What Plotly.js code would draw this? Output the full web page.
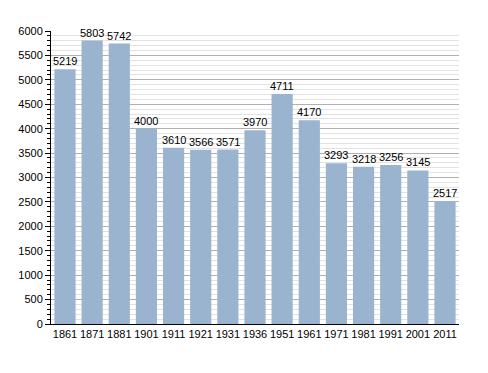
<!DOCTYPE html>
<html><head><meta charset="utf-8">
<script src="https://cdn.plot.ly/plotly-3.0.1.min.js"></script>
<style>html,body{margin:0;padding:0;background:#fff;}#c{width:488px;height:373px;}</style>
</head><body><div id="c"></div>
<script>
const years = ["1861","1871","1881","1901","1911","1921","1931","1936","1951","1961","1971","1981","1991","2001","2011"];
const population = [5219,5803,5742,4000,3610,3566,3571,3970,4711,4170,3293,3218,3256,3145,2517];

const labels = population.map((v, i) => ({
  x: i, y: v, xref: 'x', yref: 'y',
  text: String(v), showarrow: false,
  yanchor: 'bottom', yshift: 0,
  font: {family: 'Liberation Sans, Arial, sans-serif', size: 11, color: '#000'}
}));

Plotly.newPlot('c', [{
  type: 'bar',
  x: years,
  y: population,
  marker: {color: '#9ab3cf'},
  hoverinfo: 'none'
}], {
  width: 488, height: 373,
  margin: {l: 51, r: 29, t: 31, b: 49},
  paper_bgcolor: '#fff', plot_bgcolor: '#fff',
  bargap: 0.22,
  showlegend: false,
  annotations: labels,
  font: {family: 'Liberation Sans, Arial, sans-serif', size: 11, color: '#000'},
  xaxis: {
    type: 'category',
    showline: true, linecolor: '#000', linewidth: 1,
    ticks: '', showgrid: false,
    tickfont: {size: 11, color: '#000'}
  },
  yaxis: {
    range: [0, 6000], dtick: 500, tick0: 0,
    showline: true, linecolor: '#000', linewidth: 1,
    ticks: 'outside', ticklen: 5, tickcolor: '#000',
    showgrid: true, gridcolor: '#b0b0b0', gridwidth: 1,
    zeroline: false,
    tickfont: {size: 11, color: '#000'},
    minor: {dtick: 100, ticks: 'outside', ticklen: 3, tickcolor: '#000', showgrid: true, gridcolor: '#e2e2e2', gridwidth: 1}
  }
}, {staticPlot: true});
</script>
</body></html>
